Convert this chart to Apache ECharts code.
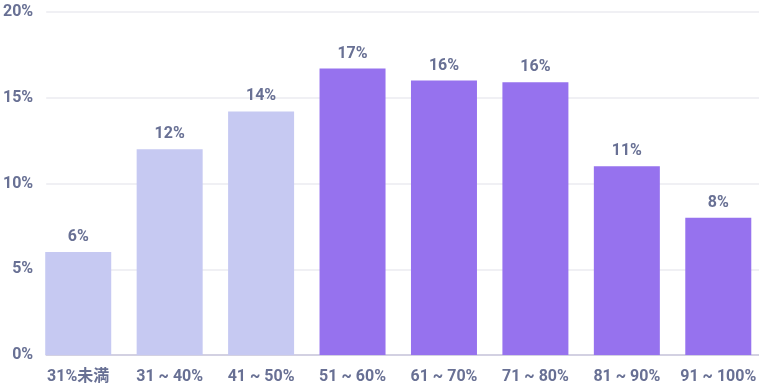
<!DOCTYPE html>
<html><head><meta charset="utf-8">
<script src="https://cdn.jsdelivr.net/npm/echarts@6/dist/echarts.min.js"></script>
<style>html,body{margin:0;padding:0;background:#fff;overflow:hidden}#c{width:770px;height:387px}</style>
</head><body><div id="c"></div>
<script>
const categories = ['31%未満', '31 ~ 40%', '41 ~ 50%', '51 ~ 60%', '61 ~ 70%', '71 ~ 80%', '81 ~ 90%', '91 ~ 100%'];
const values = [6.0, 12.0, 14.2, 16.7, 16.0, 15.9, 11.0, 8.0];
const labels = ['6%', '12%', '14%', '17%', '16%', '16%', '11%', '8%'];
const yTicks = [0, 5, 10, 15, 20];
const lightColor = '#c6c9f2', purpleColor = '#9672ee';
const textColor = '#687094';
const font = 'Roboto, "Noto Sans CJK JP", sans-serif';

const chart = echarts.init(document.getElementById('c'), null, {renderer: 'canvas'});
chart.setOption({
  animation: false,
  grid: [
    {left: 32.5, right: 6, top: 12, bottom: 32},
    {left: 46, right: 11, top: 12, bottom: 32}
  ],
  xAxis: [
    {type: 'category', gridIndex: 0, data: categories,
     axisLine: {show: false}, axisTick: {show: false},
     axisLabel: {interval: 0, color: textColor, fontFamily: font, fontWeight: 'bold', fontSize: 16, margin: 14}},
    {type: 'value', gridIndex: 1, show: true, min: 0, max: 1,
     axisLine: {show: true, onZero: false, lineStyle: {color: '#c9c6dc', width: 1.5}},
     axisTick: {show: false}, axisLabel: {show: false}, splitLine: {show: false}}
  ],
  yAxis: [
    {type: 'value', gridIndex: 0, min: 0, max: 20, interval: 5, show: false},
    {type: 'value', gridIndex: 1, min: yTicks[0], max: yTicks[yTicks.length - 1], interval: 5,
     axisLine: {show: false}, axisTick: {show: false},
     splitLine: {lineStyle: {color: '#ebebf1', width: 1.5}},
     axisLabel: {color: textColor, fontFamily: font, fontWeight: 'bold', fontSize: 16, margin: 13,
                 padding: [4, 0, 0, 0], formatter: v => v + '%'}}
  ],
  series: [{
    type: 'bar', xAxisIndex: 0, yAxisIndex: 0, barWidth: 66, z: 3,
    data: values.map((v, i) => ({value: v, itemStyle: {color: i < 3 ? lightColor : purpleColor}})),
    label: {show: true, position: 'top', distance: 7, color: textColor, fontFamily: font,
            fontWeight: 'bold', fontSize: 16, formatter: p => labels[p.dataIndex]}
  }]
});
</script></body></html>
